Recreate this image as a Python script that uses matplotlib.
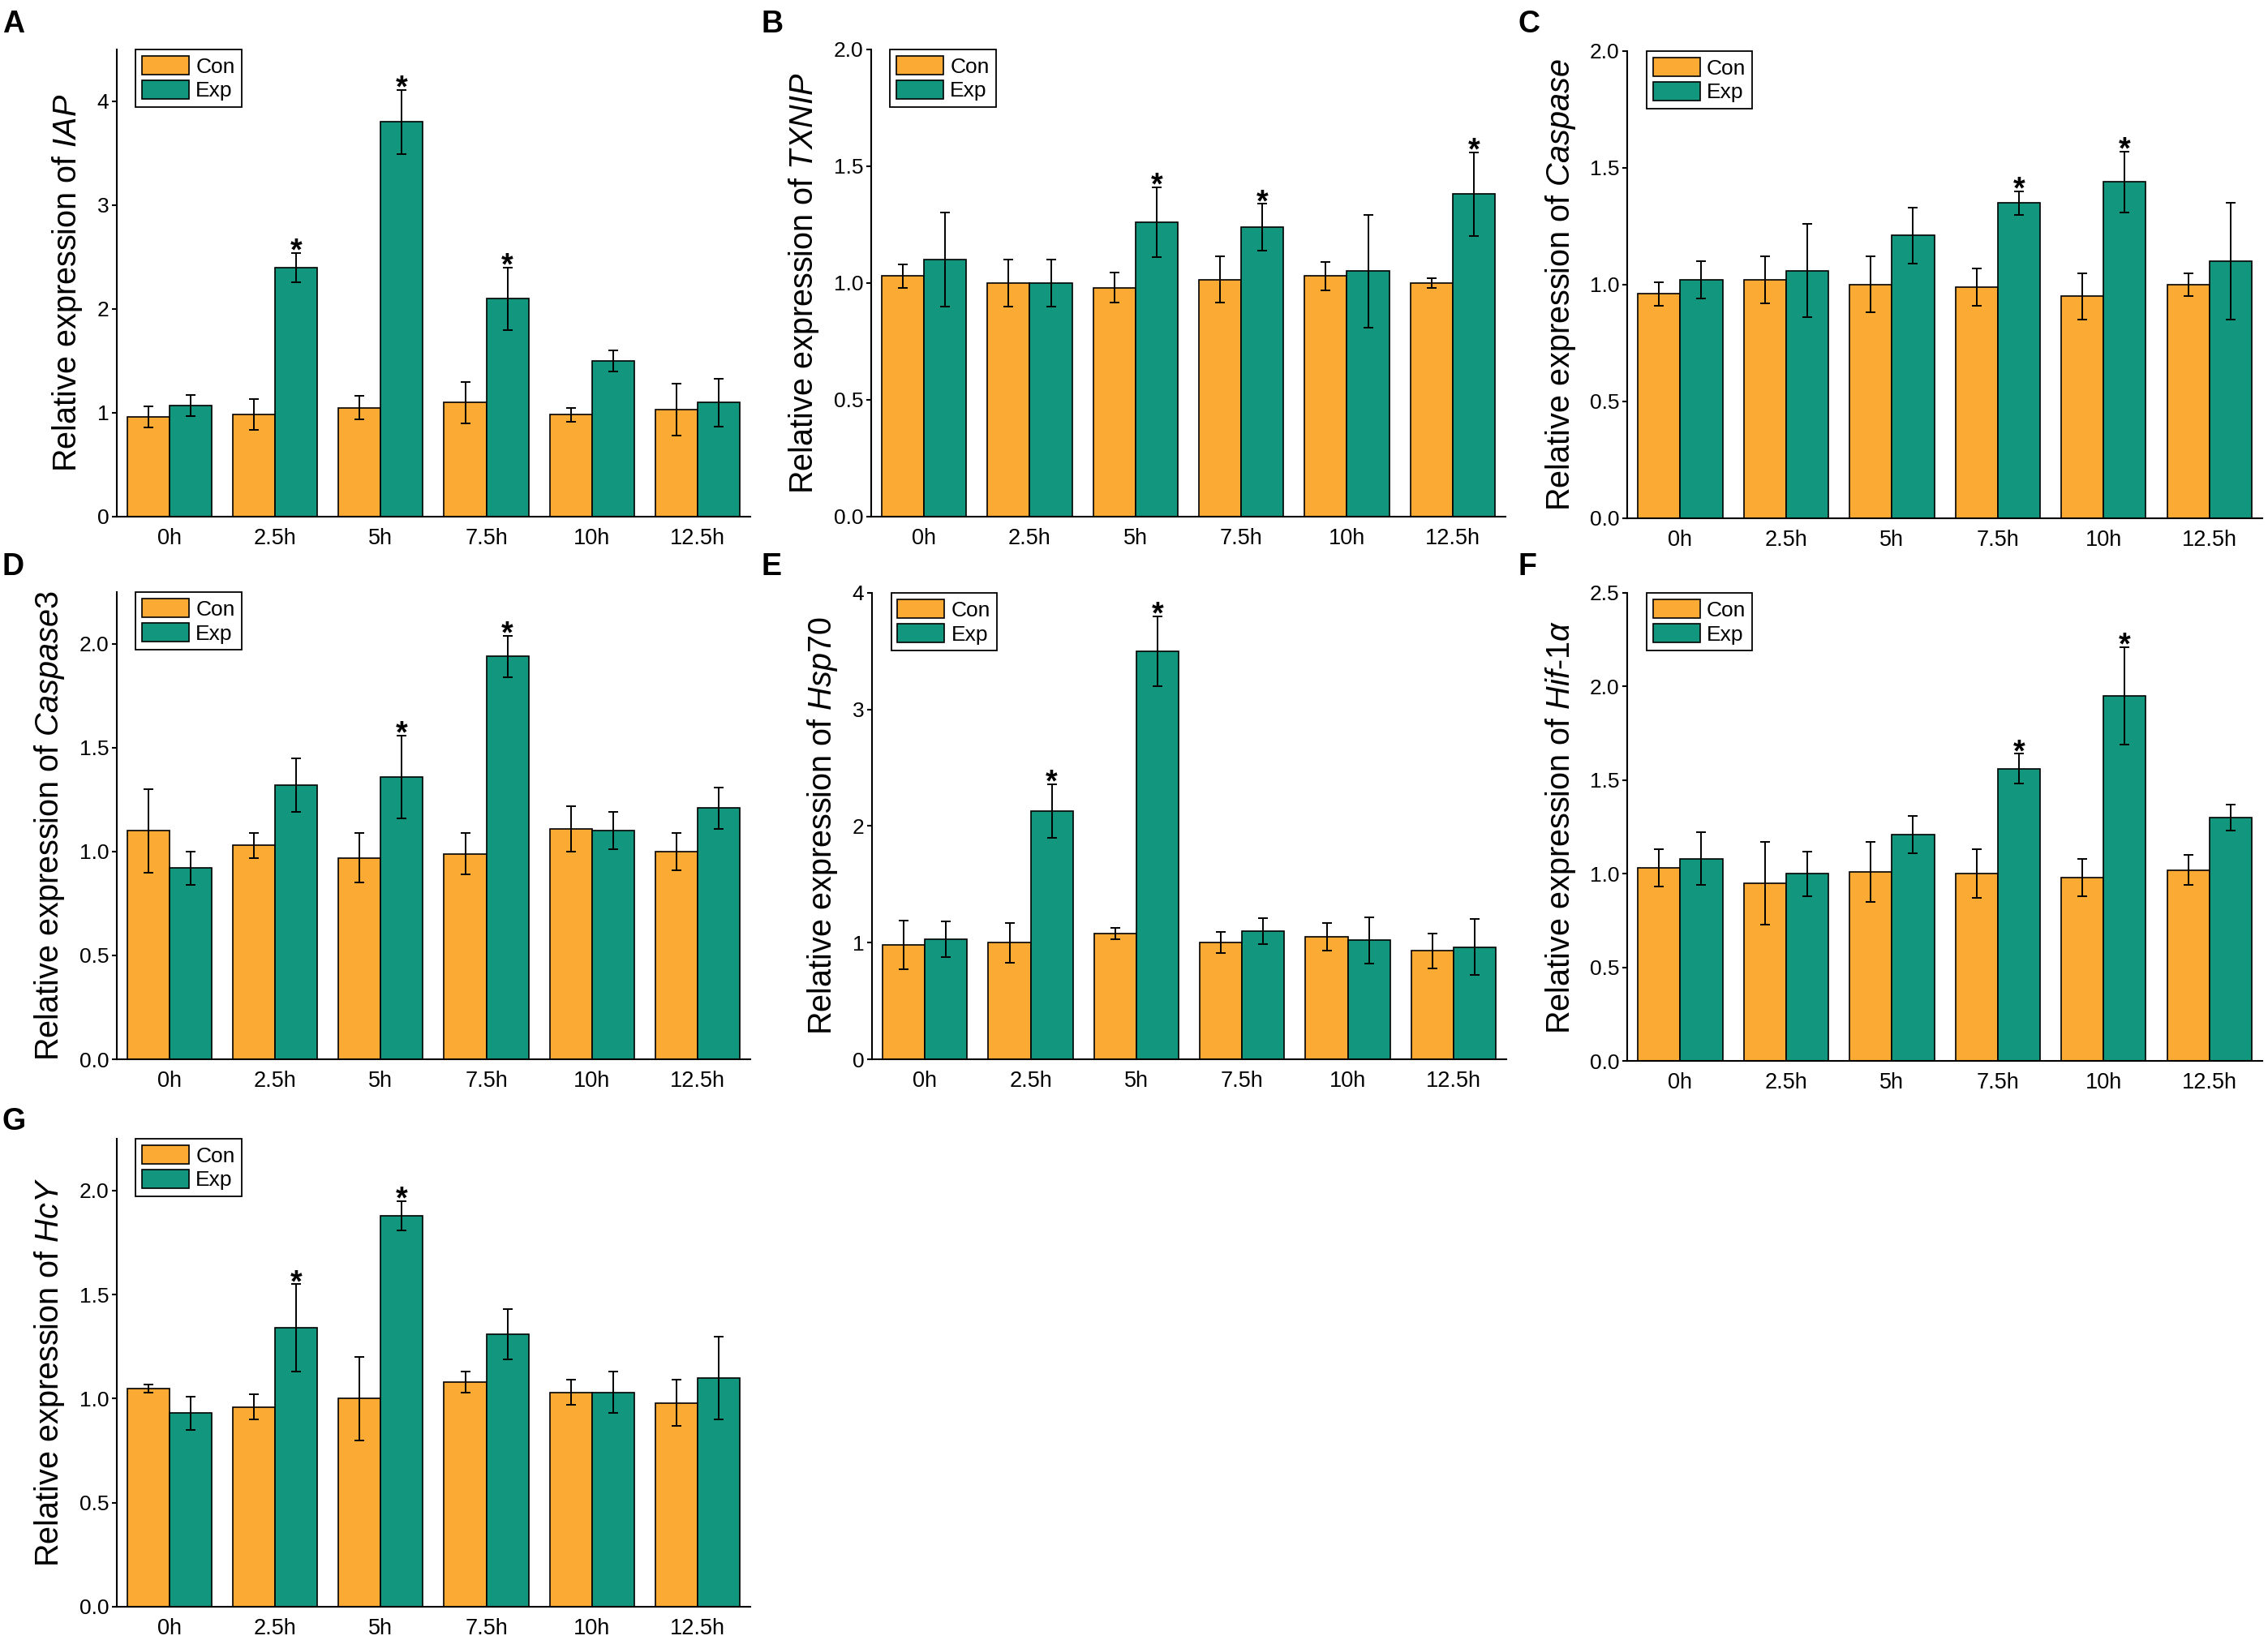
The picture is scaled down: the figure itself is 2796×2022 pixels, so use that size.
import numpy as np
import matplotlib.pyplot as plt

plt.rcParams['font.family'] = ['Liberation Sans', 'DejaVu Sans']
plt.rcParams['mathtext.fontset'] = 'custom'
plt.rcParams['mathtext.rm'] = 'Liberation Sans'
plt.rcParams['mathtext.it'] = 'Liberation Sans:italic'

NARROW = ['Liberation Sans Narrow', 'Liberation Sans', 'DejaVu Sans']
CON_COLOR = '#FBAA33'
EXP_COLOR = '#12967D'

times = ['0h', '2.5h', '5h', '7.5h', '10h', '12.5h']

# A  IAP
iap_con = [0.96, 0.985, 1.05, 1.10, 0.98, 1.03]
iap_con_err = [0.10, 0.15, 0.11, 0.20, 0.07, 0.25]
iap_exp = [1.07, 2.40, 3.80, 2.10, 1.50, 1.10]
iap_exp_err = [0.10, 0.14, 0.31, 0.30, 0.10, 0.23]
iap_star = [1, 2, 3]

# B  TXNIP
txnip_con = [1.03, 1.00, 0.98, 1.015, 1.03, 1.00]
txnip_con_err = [0.05, 0.10, 0.065, 0.10, 0.06, 0.02]
txnip_exp = [1.10, 1.00, 1.26, 1.24, 1.05, 1.38]
txnip_exp_err = [0.20, 0.10, 0.15, 0.10, 0.24, 0.18]
txnip_star = [2, 3, 5]

# C  Caspase
casp_con = [0.96, 1.02, 1.00, 0.99, 0.95, 1.00]
casp_con_err = [0.05, 0.10, 0.12, 0.08, 0.10, 0.05]
casp_exp = [1.02, 1.06, 1.21, 1.35, 1.44, 1.10]
casp_exp_err = [0.08, 0.20, 0.12, 0.05, 0.13, 0.25]
casp_star = [3, 4]

# D  Caspase3
casp3_con = [1.10, 1.03, 0.97, 0.99, 1.11, 1.00]
casp3_con_err = [0.20, 0.06, 0.12, 0.10, 0.11, 0.09]
casp3_exp = [0.92, 1.32, 1.36, 1.94, 1.10, 1.21]
casp3_exp_err = [0.08, 0.13, 0.20, 0.10, 0.09, 0.10]
casp3_star = [2, 3]

# E  Hsp70
hsp_con = [0.98, 1.00, 1.08, 1.00, 1.05, 0.93]
hsp_con_err = [0.21, 0.17, 0.05, 0.09, 0.12, 0.15]
hsp_exp = [1.03, 2.13, 3.50, 1.10, 1.02, 0.96]
hsp_exp_err = [0.155, 0.23, 0.30, 0.11, 0.20, 0.24]
hsp_star = [1, 2]

# F  Hif-1a
hif_con = [1.03, 0.95, 1.01, 1.00, 0.98, 1.02]
hif_con_err = [0.10, 0.22, 0.16, 0.13, 0.10, 0.08]
hif_exp = [1.08, 1.00, 1.21, 1.56, 1.95, 1.30]
hif_exp_err = [0.14, 0.12, 0.10, 0.08, 0.26, 0.07]
hif_star = [3, 4]

# G  HcY
hcy_con = [1.05, 0.96, 1.00, 1.08, 1.03, 0.98]
hcy_con_err = [0.02, 0.06, 0.20, 0.05, 0.06, 0.11]
hcy_exp = [0.93, 1.34, 1.88, 1.31, 1.03, 1.10]
hcy_exp_err = [0.08, 0.21, 0.07, 0.12, 0.10, 0.20]
hcy_star = [1, 2]


def draw_panel(ax, con, con_err, exp, exp_err, stars, gene, ylim, yticks, fmt):
	x = np.arange(len(times))
	w = 0.4
	ekw = dict(ecolor='black', elinewidth=1.4, capsize=4.5, capthick=1.4)
	ax.bar(x - w / 2, con, w, yerr=con_err, color=CON_COLOR, edgecolor='black',
		   linewidth=1.2, error_kw=ekw, label='Con', zorder=2)
	ax.bar(x + w / 2, exp, w, yerr=exp_err, color=EXP_COLOR, edgecolor='black',
		   linewidth=1.2, error_kw=ekw, label='Exp', zorder=2)
	for i in stars:
		ax.annotate('*', (x[i] + w / 2, exp[i] + exp_err[i]), xytext=(0, -6.5),
					textcoords='offset points', ha='center', va='baseline',
					fontsize=27, fontweight='bold')
	ax.set_xlim(-0.5, len(times) - 0.5)
	ax.set_ylim(*ylim)
	ax.set_yticks(yticks)
	ax.set_yticklabels([fmt.format(v) for v in yticks], family=NARROW, fontsize=19)
	ax.set_xticks(x)
	ax.set_xticklabels(times, family=NARROW, fontsize=19.5)
	ax.tick_params(axis='x', length=0, pad=10)
	ax.tick_params(axis='y', length=4, width=1.5, pad=3)
	for s in ['top', 'right']:
		ax.spines[s].set_visible(False)
	for s in ['left', 'bottom']:
		ax.spines[s].set_linewidth(1.5)
	ax.set_ylabel('Relative expression of ' + gene, fontsize=28.5, labelpad=11)
	leg = ax.legend(loc='upper left', bbox_to_anchor=(0.03, 1.0), frameon=True,
					fancybox=False, edgecolor='black', framealpha=1,
					prop={'family': NARROW, 'size': 19}, handlelength=2.2,
					handleheight=1.0, labelspacing=0.15, borderpad=0.3,
					handletextpad=0.3, borderaxespad=0.0)
	leg.get_frame().set_linewidth(1.3)


fig = plt.figure(figsize=(27.96, 20.22), dpi=100)

panels = [
	('A', [0.0515, 0.6850, 0.2793, 0.2849], iap_con, iap_con_err, iap_exp, iap_exp_err,
	 iap_star, r'$\mathit{IAP}$', (0, 4.5), [0, 1, 2, 3, 4], '{:.0f}'),
	('B', [0.3841, 0.6850, 0.2797, 0.2849], txnip_con, txnip_con_err, txnip_exp, txnip_exp_err,
	 txnip_star, r'$\mathit{TXNIP}$', (0, 2.0), [0, 0.5, 1.0, 1.5, 2.0], '{:.1f}'),
	('C', [0.7175, 0.6840, 0.2800, 0.2849], casp_con, casp_con_err, casp_exp, casp_exp_err,
	 casp_star, r'$\mathit{Caspase}$', (0, 2.0), [0, 0.5, 1.0, 1.5, 2.0], '{:.1f}'),
	('D', [0.0515, 0.3541, 0.2793, 0.2849], casp3_con, casp3_con_err, casp3_exp, casp3_exp_err,
	 casp3_star, r'$\mathit{Caspase3}$', (0, 2.25), [0, 0.5, 1.0, 1.5, 2.0], '{:.1f}'),
	('E', [0.3845, 0.3541, 0.2797, 0.2844], hsp_con, hsp_con_err, hsp_exp, hsp_exp_err,
	 hsp_star, r'$\mathit{Hsp70}$', (0, 4), [0, 1, 2, 3, 4], '{:.0f}'),
	('F', [0.7175, 0.3531, 0.2800, 0.2854], hif_con, hif_con_err, hif_exp, hif_exp_err,
	 hif_star, r'$\mathit{Hif}$-$\mathit{1α}$', (0, 2.5), [0, 0.5, 1.0, 1.5, 2.0, 2.5], '{:.1f}'),
	('G', [0.0515, 0.0203, 0.2793, 0.2854], hcy_con, hcy_con_err, hcy_exp, hcy_exp_err,
	 hcy_star, r'$\mathit{HcY}$', (0, 2.25), [0, 0.5, 1.0, 1.5, 2.0], '{:.1f}'),
]

letter_pos = {'A': (0.001, 0.994), 'B': (0.3355, 0.994), 'C': (0.6695, 0.994),
			  'D': (0.001, 0.663), 'E': (0.3355, 0.663), 'F': (0.6695, 0.663),
			  'G': (0.001, 0.325)}

for letter, pos, con, ce, exp, ee, st, gene, yl, yt, fmt in panels:
	ax = fig.add_axes(pos)
	draw_panel(ax, con, ce, exp, ee, st, gene, yl, yt, fmt)
	lx, ly = letter_pos[letter]
	fig.text(lx, ly, letter, fontsize=27, fontweight='bold', ha='left', va='top')

fig.savefig('out.png', dpi=100)
